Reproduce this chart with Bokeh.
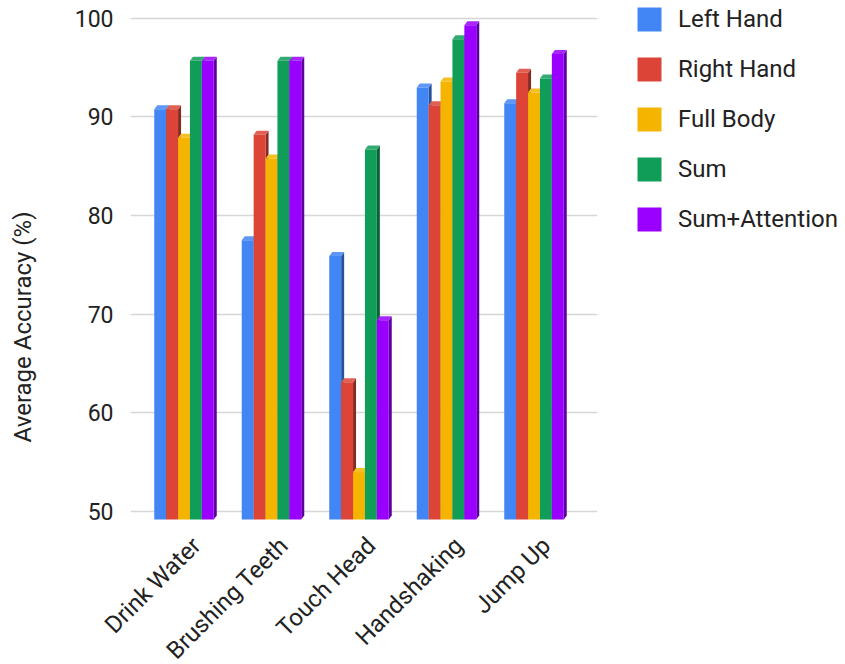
import math
from bokeh.plotting import figure
from bokeh.layouts import row
from bokeh.models import Range1d, FixedTicker, Legend, LegendItem, ColumnDataSource
from bokeh.core.properties import value
from bokeh.embed import file_html
from bokeh.resources import INLINE

categories = ["Drink Water", "Brushing Teeth", "Touch Head", "Handshaking", "Jump Up"]
series_names = ["Left Hand", "Right Hand", "Full Body", "Sum", "Sum+Attention"]
left_hand = [91.2, 77.9, 76.3, 93.4, 91.8]
right_hand = [91.2, 88.6, 63.5, 91.6, 94.9]
full_body = [88.3, 86.2, 54.4, 94.0, 92.9]
sum_vals = [96.1, 96.1, 87.1, 98.3, 94.3]
sum_attention = [96.1, 96.1, 69.8, 99.7, 96.8]
y_ticks = [50, 60, 70, 80, 90, 100]
colors = ["#4285F4", "#DB4437", "#F4B400", "#0F9D58", "#9900FF"]
y_title = "Average Accuracy (%)"

series = [left_hand, right_hand, full_body, sum_vals, sum_attention]

# layout (pixels)
TITLE_W = 40
TOTAL_H = 662
LEFT, TOP = 130, 8
FW, FH = 467, 514
BOTTOM = TOTAL_H - TOP - FH
x0, x1 = -0.6286, 4.7086
y0, y1 = 48.88, 101.0
px_x = FW / (x1 - x0)
px_y = FH / (y1 - y0)

bar_w = 11.9 / px_x
dx = 3.0 / px_x
dy = 4.0 / px_y
base = y_ticks[0]
front_base = base - 8.0 / px_y
label_shift = 11.0 / px_x
title_px_x, title_px_y = 22, 336


def shade(hex_color, f):
    h = hex_color.lstrip("#")
    r, g, b = (int(h[i:i + 2], 16) for i in (0, 2, 4))
    if f < 1:
        r, g, b = (int(c * f) for c in (r, g, b))
    else:
        t = f - 1
        r, g, b = (int(c + (255 - c) * t) for c in (r, g, b))
    return "#%02x%02x%02x" % (r, g, b)


# narrow strip carrying the y-axis title (its frame is aligned with the chart frame)
tfig = figure(width=TITLE_W, height=TOTAL_H, x_range=Range1d(0, TITLE_W), y_range=Range1d(y0, y1),
              output_backend="svg", toolbar_location=None,
              min_border_left=0, min_border_right=0, min_border_top=TOP, min_border_bottom=BOTTOM)
tfig.axis.visible = False
tfig.grid.visible = False
tfig.outline_line_color = None
tfig.text(x=[title_px_x], y=[y1 - (title_px_y - TOP) / px_y], text=[y_title], angle=math.pi / 2,
          text_align="center", text_baseline="middle", text_font=value("Roboto"),
          text_font_size="24px", text_color="#222222")

p = figure(frame_width=FW, frame_height=FH, x_range=Range1d(x0, x1), y_range=Range1d(y0, y1),
           output_backend="svg", toolbar_location=None,
           min_border_left=LEFT - TITLE_W, min_border_top=TOP, min_border_right=246,
           min_border_bottom=BOTTOM)
p.outline_line_color = None
p.background_fill_color = "white"
p.border_fill_color = "white"

legend_items = []
n = len(series)
for k, (name, vals, col) in enumerate(zip(series_names, series, colors)):
    fl = [i - n * bar_w / 2 + k * bar_w - dx / 2 for i in range(len(categories))]
    fr = [a + bar_w for a in fl]
    side_xs = [[r, r + dx, r + dx, r] for r in fr]
    side_ys = [[v - dy, v, front_base + dy, front_base] for v in vals]
    p.patches(side_xs, side_ys, fill_color=shade(col, 0.62), line_color=None)
    top_xs = [[l, r, r + dx, l + dx] for l, r in zip(fl, fr)]
    top_ys = [[v - dy, v - dy, v, v] for v in vals]
    p.patches(top_xs, top_ys, fill_color=shade(col, 1.15), line_color=None)
    src = ColumnDataSource(dict(left=fl, right=fr, top=[v - dy for v in vals],
                                bottom=[front_base] * len(vals)))
    r = p.quad(left="left", right="right", top="top", bottom="bottom", source=src,
               fill_color=col, line_color=None)
    legend_items.append(LegendItem(label=name, renderers=[r]))

# axes
p.xgrid.grid_line_color = None
p.ygrid.grid_line_color = "#d6d6d6"
p.ygrid.grid_line_width = 1.5
p.yaxis.ticker = FixedTicker(ticks=y_ticks)
x_tick_pos = [i + label_shift for i in range(len(categories))]
p.xaxis.ticker = FixedTicker(ticks=x_tick_pos)
p.xaxis.major_label_overrides = {t: c for t, c in zip(x_tick_pos, categories)}
for ax in (p.xaxis, p.yaxis):
    ax.axis_line_color = None
    ax.major_tick_line_color = None
    ax.minor_tick_line_color = None
    ax.major_tick_out = 0
    ax.major_tick_in = 0
    ax.major_label_text_font = "Roboto"
    ax.major_label_text_color = "#222222"
p.xaxis.major_label_text_font_size = "24px"
p.yaxis.major_label_text_font_size = "23px"
p.xaxis.major_label_orientation = math.pi / 4
p.xaxis.major_label_standoff = 19
p.yaxis.major_label_standoff = 17

legend = Legend(items=legend_items, location=(37, 288))
legend.border_line_color = None
legend.background_fill_alpha = 0
legend.margin = 0
legend.padding = 0
legend.glyph_width = 30
legend.glyph_height = 30
legend.label_height = 30
legend.label_standoff = 14
legend.spacing = 20
legend.label_text_font = "Roboto"
legend.label_text_font_size = "24px"
legend.label_text_color = "#222222"
p.add_layout(legend, "right")

layout = row(tfig, p)
open("out.html", "w").write(file_html(layout, INLINE))
